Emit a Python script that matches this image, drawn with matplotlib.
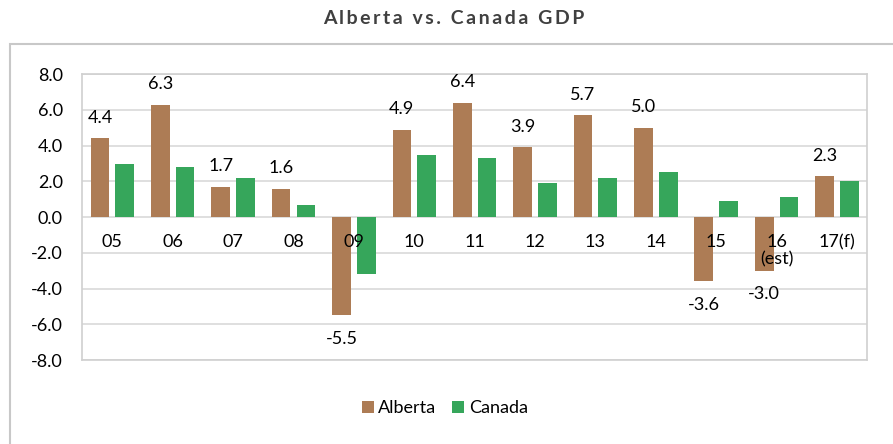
import numpy as np
import matplotlib.pyplot as plt
from matplotlib.patches import Rectangle

# Data
years = ["05", "06", "07", "08", "09", "10", "11", "12", "13", "14", "15", "16\n(est)", "17(f)"]
alberta = [4.4, 6.3, 1.7, 1.6, -5.5, 4.9, 6.4, 3.9, 5.7, 5.0, -3.6, -3.0, 2.3]
canada = [3.0, 2.8, 2.2, 0.7, -3.2, 3.5, 3.3, 1.9, 2.2, 2.5, 0.9, 1.1, 2.0]

colors = ["#AD7C55", "#36A65B"]

plt.rcParams['font.family'] = ['Lato', 'DejaVu Sans']

fig = plt.figure(figsize=(8.93, 4.44), dpi=100)
ax = fig.add_axes([0.092, 0.189, 0.879, 0.644])

x = np.arange(len(years))
w = 0.31
ax.bar(x - 0.205, alberta, w, color=colors[0], label='Alberta', zorder=3)
ax.bar(x + 0.205, canada, w, color=colors[1], label='Canada', zorder=3)

# value labels for Alberta only
for xi, v in zip(x, alberta):
    if v >= 0:
        ax.annotate(f"{v:.1f}", (xi - 0.205, v), xytext=(0, 9), textcoords='offset points',
                    ha='center', va='bottom', fontsize=13, color='black')
    else:
        ax.annotate(f"{v:.1f}", (xi - 0.205, v), xytext=(0, -11), textcoords='offset points',
                    ha='center', va='top', fontsize=13, color='black')

# category labels sit just below the zero line
for xi, lab in zip(x, years):
    ax.text(xi, -0.95, lab, ha='center', va='top', fontsize=13, color='black',
            linespacing=1.1, zorder=4)

ax.set_xlim(-0.5, len(years) - 0.5)
ax.set_ylim(-8, 8)
ax.set_yticks(np.arange(-8, 8.1, 2))
ax.set_yticklabels([f"{t:.1f}" for t in np.arange(-8, 8.1, 2)], fontsize=13)
ax.set_xticks([])
ax.tick_params(axis='y', length=0, pad=14)
ax.grid(axis='y', color='#D9D9D9', linewidth=1.2, zorder=0)
for s in ax.spines.values():
    s.set_color('#D0D0D0')
    s.set_linewidth(1.2)

ax.legend(loc='center', bbox_to_anchor=(0.498, 0.081), bbox_transform=fig.transFigure,
          ncol=2, frameon=False, fontsize=13, handlelength=0.65, handleheight=0.65,
          handletextpad=0.25, columnspacing=0.9)

title = "Alberta vs. Canada GDP"
fig.text(0.508, 0.958, "\u2009".join(title), ha='center', va='center',
         fontsize=14, fontweight='bold', color='#404040')

# outer chart border
fig.patches.append(Rectangle((0.011, -0.1), 1.2, 1.0, transform=fig.transFigure,
                             fill=False, edgecolor='#C8C8C8', linewidth=1.5))

fig.savefig("out.png", dpi=100)
